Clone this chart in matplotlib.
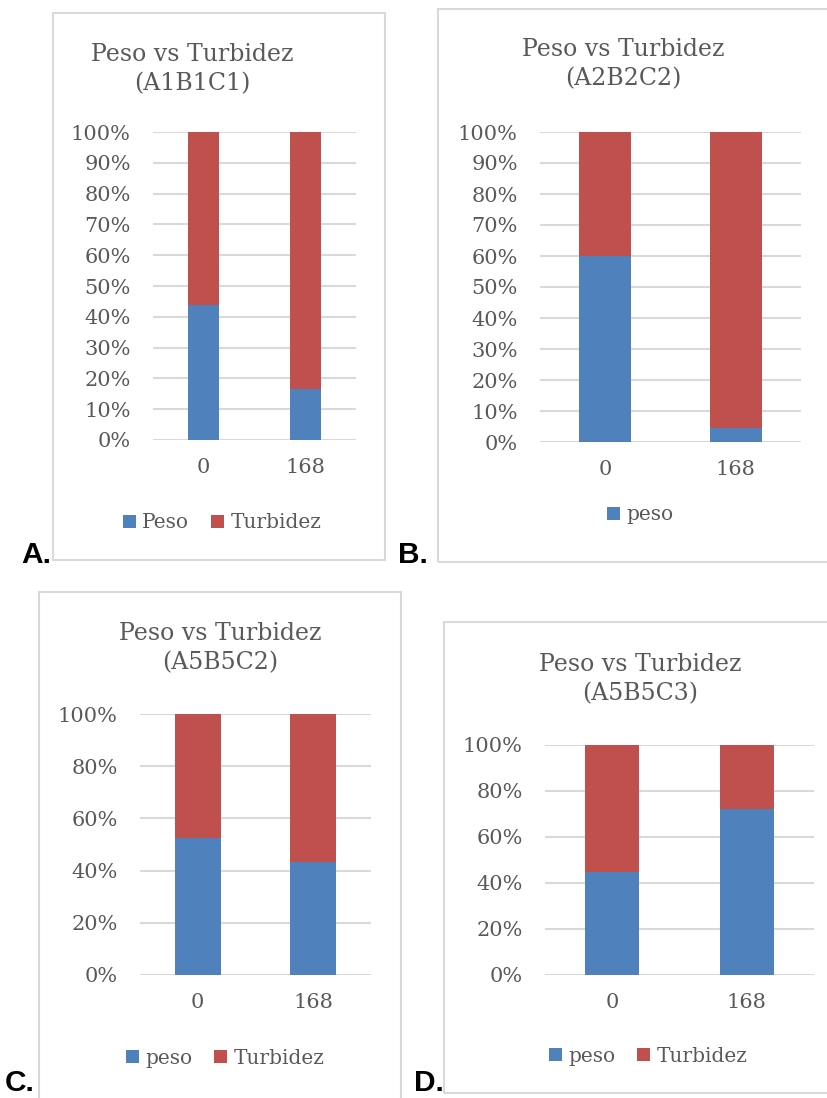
import matplotlib
matplotlib.use("Agg")
import matplotlib.pyplot as plt
from matplotlib.patches import Rectangle, Patch

# ---- data -----------------------------------------------------------------
categories = ["0", "168"]
titles = ["Peso vs Turbidez\n(A1B1C1)", "Peso vs Turbidez\n(A2B2C2)",
          "Peso vs Turbidez\n(A5B5C2)", "Peso vs Turbidez\n(A5B5C3)"]
panel_letters = ["A.", "B.", "C.", "D."]
peso_a = [43.7, 16.4]
peso_b = [60.0, 4.4]
peso_c = [52.5, 43.4]
peso_d = [45.0, 72.3]
turb_a = [100 - v for v in peso_a]
turb_b = [100 - v for v in peso_b]
turb_c = [100 - v for v in peso_c]
turb_d = [100 - v for v in peso_d]
peso_names = ["Peso", "peso", "peso", "peso"]
turb_name = "Turbidez"
ticks_fine = [0, 10, 20, 30, 40, 50, 60, 70, 80, 90, 100]
ticks_coarse = [0, 20, 40, 60, 80, 100]

# ---- style ----------------------------------------------------------------
W, H = 828, 1098
BLUE = "#4f81bd"
RED = "#c0504d"
GRID = "#d9d9d9"
TEXT = "#595959"
SERIF = "DejaVu Serif"

fig = plt.figure(figsize=(W / 100, H / 100), dpi=100)
fig.patch.set_facecolor("white")


def fx(x):
    return x / W


def fy(y):
    return 1 - y / H


def add_box(x0, y0, x1, y1):
    fig.patches.append(Rectangle((fx(x0), fy(y1)), fx(x1) - fx(x0), fy(y0) - fy(y1),
                                 transform=fig.transFigure, fill=False,
                                 edgecolor="#d9d9d9", linewidth=1.5, zorder=0))


panels = [
    dict(box=(53, 13, 385, 560), ax=(153, 132, 356, 440), peso=peso_a, turb=turb_a,
         ticks=ticks_fine, width=0.31, title_xy=(192, 69), legend_xy=(222, 523),
         legend_turb=True, letter_xy=(21, 569)),
    dict(box=(438, 9, 840, 562), ax=(540, 132, 801, 442), peso=peso_b, turb=turb_b,
         ticks=ticks_fine, width=0.40, title_xy=(623, 64), legend_xy=(640, 515),
         legend_turb=False, letter_xy=(398, 569)),
    dict(box=(39, 592, 401, 1110), ax=(140, 714, 371, 975), peso=peso_c, turb=turb_c,
         ticks=ticks_coarse, width=0.40, title_xy=(220, 648), legend_xy=(225, 1058),
         legend_turb=True, letter_xy=(5, 1097)),
    dict(box=(444, 622, 840, 1093), ax=(545, 745, 814, 975), peso=peso_d, turb=turb_d,
         ticks=ticks_coarse, width=0.40, title_xy=(640, 679), legend_xy=(648, 1056),
         legend_turb=True, letter_xy=(414, 1097)),
]

for i, p in enumerate(panels):
    add_box(*p["box"])
    x0, y0, x1, y1 = p["ax"]
    ax = fig.add_axes([fx(x0), fy(y1), fx(x1) - fx(x0), fy(y0) - fy(y1)])
    xs = list(range(len(categories)))
    ax.bar(xs, p["peso"], width=p["width"], color=BLUE, zorder=3)
    ax.bar(xs, p["turb"], width=p["width"], bottom=p["peso"], color=RED, zorder=3)
    ax.set_xlim(-0.5, 1.5)
    ax.set_ylim(0, 100)
    ax.set_yticks(p["ticks"])
    ax.set_yticklabels([f"{t}%" for t in p["ticks"]])
    ax.set_xticks(xs)
    ax.set_xticklabels(categories)
    ax.yaxis.grid(True, color=GRID, linewidth=1.5, zorder=0)
    ax.set_axisbelow(True)
    for s in ax.spines.values():
        s.set_visible(False)
    ax.tick_params(length=0, labelsize=15, labelcolor=TEXT)
    ax.tick_params(axis="y", pad=16)
    ax.tick_params(axis="x", pad=13)
    for lab in ax.get_xticklabels() + ax.get_yticklabels():
        lab.set_family(SERIF)

    tx, ty = p["title_xy"]
    fig.text(fx(tx), fy(ty), titles[i], ha="center", va="center", color=TEXT,
             fontsize=17, family=SERIF, linespacing=1.35)

    handles = [Patch(facecolor=BLUE, label=peso_names[i])]
    if p["legend_turb"]:
        handles.append(Patch(facecolor=RED, label=turb_name))
    lx, ly = p["legend_xy"]
    fig.legend(handles=handles, loc="center", bbox_to_anchor=(fx(lx), fy(ly)),
               ncol=len(handles), frameon=False, handlelength=0.65, handleheight=0.65,
               handletextpad=0.3, columnspacing=1.1,
               prop={"family": SERIF, "size": 14.5}, labelcolor=TEXT)

    lx, ly = p["letter_xy"]
    fig.text(fx(lx), fy(ly), panel_letters[i], ha="left", va="bottom",
             fontsize=21.5, fontweight="bold", family="Liberation Sans", color="black")

fig.savefig("out.png", dpi=100, facecolor="white")
